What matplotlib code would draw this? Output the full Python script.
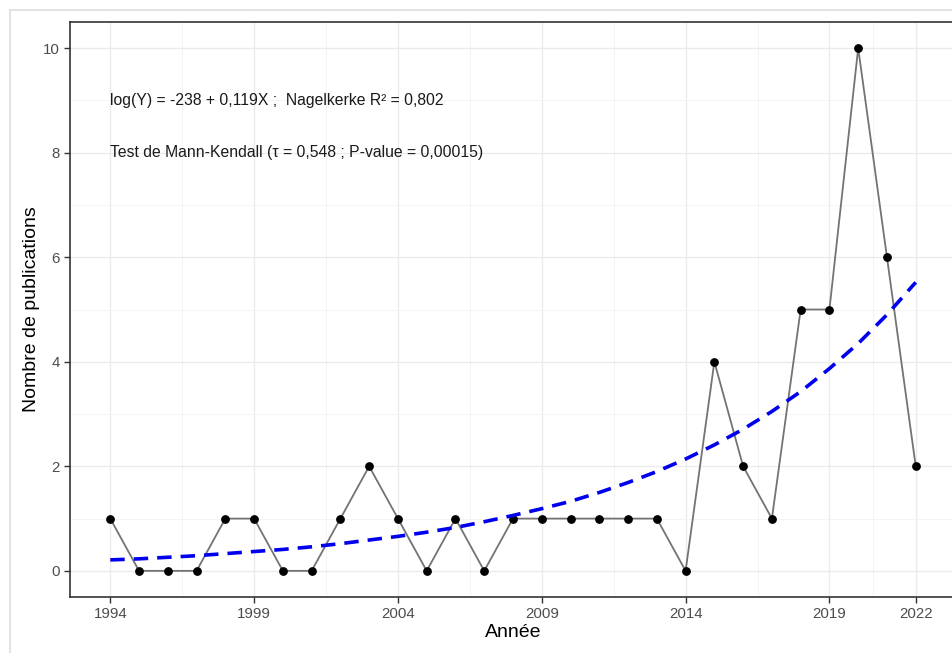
"""
Nombre de publications par année, avec l'ajustement exponentiel
(tirets bleus) et les résultats du test de Mann-Kendall.
"""

import matplotlib.pyplot as plt
import matplotlib.patches as mpatches
import numpy as np

years = list(range(1994, 2023))
publications = [1, 0, 0, 0, 1, 1, 0, 0, 1, 2, 1, 0, 1, 0, 1,
                1, 1, 1, 1, 1, 0, 4, 2, 1, 5, 5, 10, 6, 2]
# fitted curve
fitted = [0.21, 0.23, 0.26, 0.29, 0.33, 0.37, 0.41, 0.46, 0.52, 0.59,
          0.66, 0.74, 0.83, 0.94, 1.06, 1.19, 1.33, 1.50, 1.69, 1.90,
          2.14, 2.41, 2.71, 3.05, 3.43, 3.87, 4.35, 4.90, 5.52]
x_ticks = [1994, 1999, 2004, 2009, 2014, 2019, 2022]
x_minor = [1996.5, 2001.5, 2006.5, 2011.5, 2016.5, 2020.5]
y_ticks = [0, 2, 4, 6, 8, 10]
y_minor = [1, 3, 5, 7, 9]
label_fit = "log(Y) = -238 + 0,119X ;  Nagelkerke R\u00b2 = 0,802"
label_mk = "Test de Mann-Kendall (\u03c4 = 0,548 ; P-value = 0,00015)"

plt.rcParams["font.family"] = ["Liberation Sans", "DejaVu Sans"]

fig = plt.figure(figsize=(9.53, 6.53), dpi=100)
# panel: left 70px, top 22px, bottom 597px, right runs past the image edge
ax = fig.add_axes([70 / 953, 56 / 653, 886 / 953, 575 / 653])

# light frame around the whole picture
fig.patches.append(mpatches.Rectangle((10 / 953, -0.1), 1.0, 1.0 - 10 / 653 + 0.1,
                                      transform=fig.transFigure, fill=False,
                                      edgecolor="#e3e3e3", linewidth=1.5))

# grid
for xm in x_minor:
    ax.axvline(xm, color="#f2f2f2", linewidth=0.6, zorder=0)
for xt in x_ticks:
    ax.axvline(xt, color="#ebebeb", linewidth=1.0, zorder=0)
for ym in y_minor:
    ax.axhline(ym, color="#f2f2f2", linewidth=0.6, zorder=0)
for yt in y_ticks:
    ax.axhline(yt, color="#ebebeb", linewidth=1.0, zorder=0)

# data
ax.plot(years, publications, color="#737373", linewidth=1.3, zorder=2)
ax.scatter(years, publications, color="black", s=28, zorder=3)
ax.plot(years, fitted, color="#0000ee", linewidth=2.6, linestyle=(0, (4, 2.5)),
        zorder=4)

# annotations
ax.text(1994, 9, label_fit, fontsize=11.3, color="#1a1a1a", va="center")
ax.text(1994, 8, label_mk, fontsize=11.3, color="#1a1a1a", va="center")

# axes settings
ax.set_xlim(1992.6, 2023.4)
ax.set_ylim(-0.5, 10.5)
ax.set_xticks(x_ticks)
ax.set_yticks(y_ticks)
ax.tick_params(axis="both", labelsize=10.8, labelcolor="#4d4d4d",
               color="#333333", length=4, width=1)
for spine in ax.spines.values():
    spine.set_color("#333333")
    spine.set_linewidth(1.2)
ax.set_xlabel("Année", fontsize=14, color="black", labelpad=2)
ax.set_ylabel("Nombre de publications", fontsize=14, color="black", labelpad=2)

fig.savefig("out.png", dpi=100)
